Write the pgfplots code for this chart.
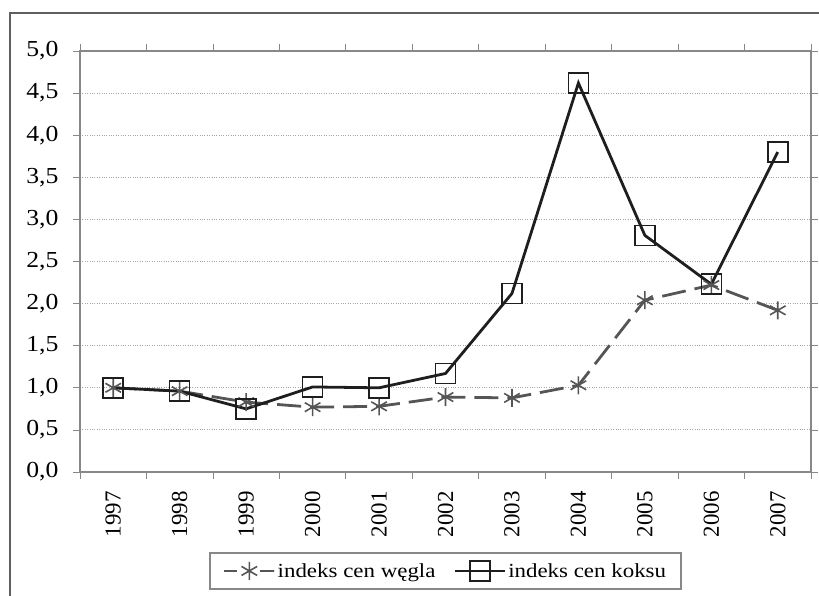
\documentclass[border=0pt]{standalone}
\usepackage{fontspec}
\setmainfont{Liberation Serif}
\usepackage{pgfplots}
\pgfplotsset{compat=1.18}

\definecolor{coal}{HTML}{555555}
\definecolor{coke}{HTML}{1E1E1E}
\definecolor{frame}{HTML}{888888}

\newcommand\chartfont{\fontsize{20}{24}\selectfont}
\newcommand\yearfont{\fontsize{23}{26}\selectfont}
\newcommand\tickfont{\fontsize{23}{26}\selectfont\addfontfeature{FakeStretch=1.12}}
\newcommand\widefont{\fontsize{20}{24}\selectfont\addfontfeature{FakeStretch=1.15}}

\begin{document}
\begin{tikzpicture}[font=\chartfont]
\useasboundingbox (0bp,0bp) rectangle (819bp,596bp);
\begin{axis}[
    at={(80bp,124bp)}, anchor=south west,
    scale only axis, width=731bp, height=421bp,
    xmin=-0.5, xmax=10.5, ymin=0, ymax=5,
    xtick={0,...,10},
    xticklabels={1997,1998,1999,2000,2001,2002,2003,2004,2005,2006,2007},
    minor xtick={-0.5,0.5,...,10.5},
    ytick={0,0.5,...,5},
    axis line style={frame, line width=1.4pt},
    major x tick style={draw=none},
    minor tick length=7bp,
    major tick length=7bp,
    tick align=outside,
    every tick/.style={frame, line width=0.8pt},
    x grid style={draw=none},
    minor x grid style={gray!70, dotted, line width=1pt},
    ymajorgrids, xminorgrids,
    y grid style={gray!70, dotted, line width=1pt},
    xticklabel style={font=\yearfont, rotate=90, anchor=east, xshift=-9bp},
    yticklabel style={font=\tickfont, xshift=-11bp},
    /pgf/number format/.cd, use comma, fixed, fixed zerofill, precision=1, assume math mode=true,
    /pgfplots/.cd,
    legend columns=2,
    legend style={at={(0.5,-0.235)}, anchor=center, draw=frame, line width=1.2pt,
        inner xsep=13bp, inner ysep=8bp, font=\widefont,
        /tikz/every even column/.style={column sep=16bp}},
    legend image code/.code={\draw[mark repeat=2, mark phase=2, #1] plot coordinates {(0bp,0bp) (25bp,0bp) (50bp,0bp)};},
    clip=false,
]
\addplot[coal, line width=2.8pt, dash pattern=on 24bp off 9bp, mark=asterisk,
    mark size=9bp, mark options={solid, line width=1.6pt},
    legend image post style={dash pattern=on 13bp off 23bp on 14bp off 0bp}]
    coordinates {(0,1.00) (1,0.96) (2,0.83) (3,0.77) (4,0.78) (5,0.89) (6,0.88) (7,1.03) (8,2.04) (9,2.22) (10,1.92)};
\addlegendentry{indeks cen węgla}
\addplot[coke, line width=2.8pt, mark=square,
    mark size=10bp, mark options={line width=1.6pt}]
    coordinates {(0,1.00) (1,0.96) (2,0.75) (3,1.01) (4,1.00) (5,1.17) (6,2.12) (7,4.62) (8,2.81) (9,2.23) (10,3.80)};
\addlegendentry{indeks cen koksu}
\end{axis}
\draw[frame!70!black, line width=1.4pt] (10bp,-5bp) -- (10bp,583bp) -- (825bp,583bp);
\end{tikzpicture}
\end{document}
